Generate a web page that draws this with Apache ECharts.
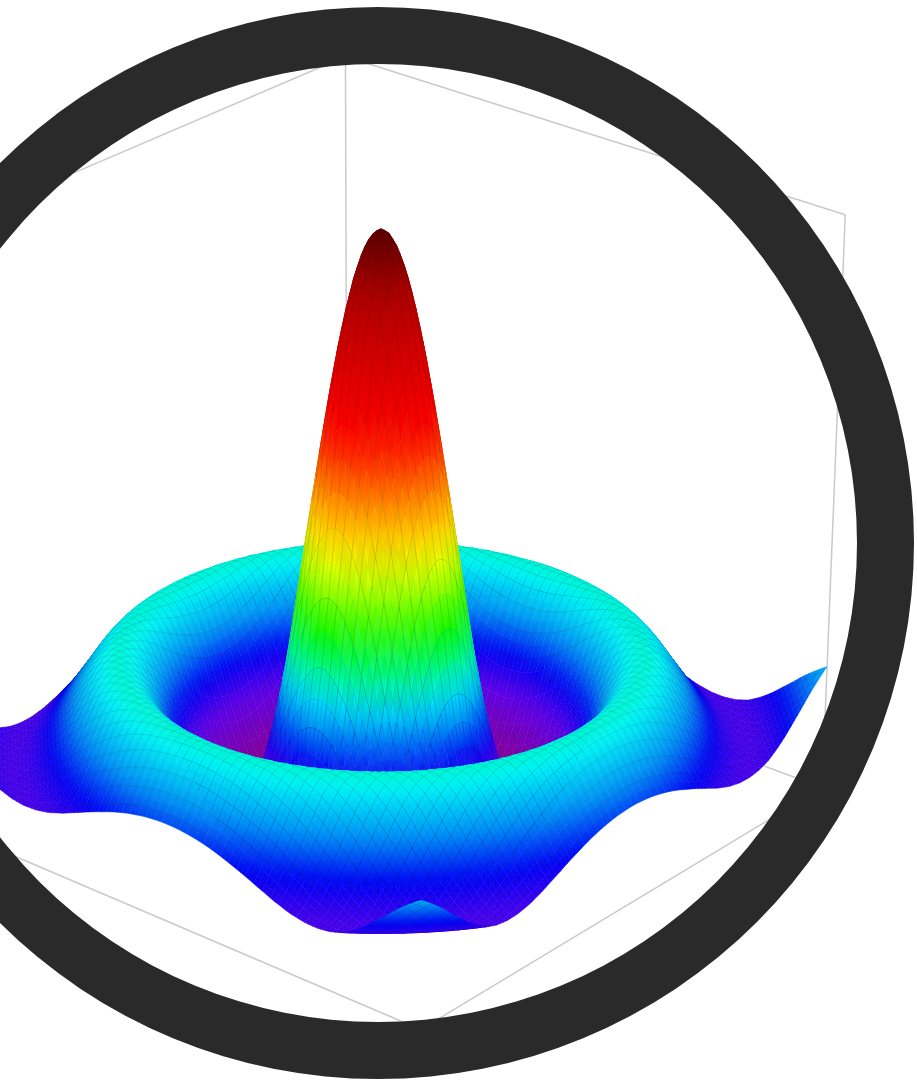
<!DOCTYPE html>
<html>
<head>
<meta charset="utf-8">
<title>Surface</title>
<script src="https://cdn.jsdelivr.net/npm/echarts@6/dist/echarts.min.js"></script>
<style>
html, body { margin: 0; padding: 0; background: #fff; }
#main { width: 917px; height: 1081px; }
</style>
</head>
<body>
<div id="main"></div>
<script>
// surface height read at each radius (one entry every radiusStep)
const radiusStep = 0.25;
const surfaceHeights = [
  1.000, 0.990, 0.959, 0.909, 0.841, 0.759, 0.665, 0.562, 0.455, 0.346,
  0.235, 0.125, 0.035, -0.045, -0.105, -0.152, -0.189, -0.210, -0.217, -0.210,
  -0.192, -0.164, -0.128, -0.088, -0.047, -0.005, 0.033, 0.067, 0.094, 0.114,
  0.125, 0.128, 0.124, 0.112, 0.094, 0.071, 0.046, 0.022, -0.002, -0.025,
  -0.045, -0.062, -0.074, -0.080, -0.081, -0.077, -0.068, -0.053, -0.035, -0.014,
  0.006, 0.027, 0.044, 0.060, 0.072
];
// colour ramp
const colorLevels = [-0.217, -0.1, -0.03, 0.04, 0.115, 0.22, 0.38, 0.5, 0.62, 0.88, 1.0];
const colorRamp = ['#8a0090', '#6000e8', '#0000f5', '#0090f5', '#00f5f5', '#00f800', '#ffff00', '#ff8000', '#ff0000', '#b00000', '#5a0000'];

const domainHalf = 9.42;
const zFloor = -0.2;
const zTop = 1.0;
const zTopBack = 1.03; // the rear box corner sits a little higher in the picture
const meshCount = 120;
const meshLineEvery = 2;

// camera
const view = { cx: 381, cy: 524, az: -40.3, el: 24.7, dist: 16, focal: 5170, height: 1.96 };
const cosA = Math.cos(view.az * Math.PI / 180), sinA = Math.sin(view.az * Math.PI / 180);
const cosE = Math.cos(view.el * Math.PI / 180), sinE = Math.sin(view.el * Math.PI / 180);

function project(x, y, z) {
  const gx = x / domainHalf, gy = y / domainHalf;
  const zw = ((z - zFloor) / (zTop - zFloor) - 0.5) * view.height;
  const X = gx * cosA - gy * sinA;
  const Y = gx * sinA + gy * cosA;
  const v = zw * cosE + Y * sinE;
  const D = view.dist + Y * cosE - zw * sinE;
  return [view.cx + view.focal * X / D, view.cy - view.focal * v / D];
}

function heightAt(x, y) {
  const k = Math.hypot(x, y) / radiusStep;
  const i = Math.min(Math.floor(k), surfaceHeights.length - 2);
  const t = k - i;
  return surfaceHeights[i] * (1 - t) + surfaceHeights[i + 1] * t;
}

function colorOf(z) {
  let i = 0;
  while (i < colorLevels.length - 2 && z > colorLevels[i + 1]) i++;
  const t = Math.max(0, Math.min(1, (z - colorLevels[i]) / (colorLevels[i + 1] - colorLevels[i])));
  return echarts.color.lerp(t, [colorRamp[i], colorRamp[i + 1]]);
}

// mesh cells, far ones first
const cells = [];
for (let i = 0; i < meshCount; i++) {
  for (let j = 0; j < meshCount; j++) {
    cells.push([i, j]);
  }
}
const cellStep = 2 * domainHalf / meshCount;
function depthOf(c) {
  const x = -domainHalf + (c[0] + 0.5) * cellStep, y = -domainHalf + (c[1] + 0.5) * cellStep;
  return x * sinA + y * cosA;
}
cells.sort(function (a, b) { return depthOf(b) - depthOf(a); });

// box edges behind the surface
const h = domainHalf;
const boxEdges = [
  [-h, -h, zFloor, h, -h, zFloor], [h, -h, zFloor, h, h, zFloor],
  [h, h, zFloor, -h, h, zFloor], [-h, h, zFloor, -h, -h, zFloor],
  [-h, h, zFloor, -h, h, zTopBack], [h, h, zFloor, h, h, zTop], [-h, -h, zFloor, -h, -h, zTop],
  [-h, h, zTopBack, h, h, zTop], [-h, h, zTopBack, -h, -h, zTop]
];

function meshEdge(a, b) {
  return {
    type: 'line',
    shape: { x1: a[0], y1: a[1], x2: b[0], y2: b[1] },
    style: { stroke: 'rgba(0,0,0,0.14)', lineWidth: 0.8 }
  };
}

var myChart = echarts.init(document.getElementById('main'));
myChart.setOption({
  animation: false,
  backgroundColor: '#fff',
  grid: { left: 0, right: 0, top: 0, bottom: 0 },
  xAxis: { type: 'value', min: 0, max: 917, show: false },
  yAxis: { type: 'value', min: 0, max: 1081, inverse: true, show: false },
  series: [
    {
      type: 'custom',
      silent: true,
      z: 1,
      renderItem: function (params, api) {
        const e = boxEdges[params.dataIndex];
        const a = api.coord(project(e[0], e[1], e[2]));
        const b = api.coord(project(e[3], e[4], e[5]));
        return {
          type: 'line',
          shape: { x1: a[0], y1: a[1], x2: b[0], y2: b[1] },
          style: { stroke: '#cacaca', lineWidth: 1.5 }
        };
      },
      data: boxEdges.map(function (e, i) { return [i, 0]; })
    },
    {
      type: 'custom',
      silent: true,
      z: 2,
      progressive: 0,
      renderItem: function (params, api) {
        const c = cells[params.dataIndex];
        const x0 = -domainHalf + c[0] * cellStep, y0 = -domainHalf + c[1] * cellStep;
        const corners = [[x0, y0], [x0 + cellStep, y0], [x0 + cellStep, y0 + cellStep], [x0, y0 + cellStep]];
        let lo = 0, hi = 0;
        const zs = corners.map(function (p) { return heightAt(p[0], p[1]); });
        const pts = corners.map(function (p, k) {
          if (zs[k] < zs[lo]) lo = k;
          if (zs[k] > zs[hi]) hi = k;
          return api.coord(project(p[0], p[1], zs[k]));
        });
        // shade each cell from its lowest corner to its highest one
        const cLo = colorOf(zs[lo]), cHi = colorOf(zs[hi]);
        const fill = new echarts.graphic.LinearGradient(pts[lo][0], pts[lo][1], pts[hi][0], pts[hi][1],
          [{ offset: 0, color: cLo }, { offset: 1, color: cHi }], true);
        const children = [{
          type: 'polygon',
          shape: { points: pts },
          style: { fill: fill, stroke: echarts.color.lerp(0.5, [cLo, cHi]), lineWidth: 0.5 }
        }];
        // mesh lines go on the far edges so nearer cells do not paint over them
        if (c[0] % meshLineEvery === 0) children.push(meshEdge(pts[0], pts[3]));
        if (c[1] % meshLineEvery === 0) children.push(meshEdge(pts[3], pts[2]));
        return { type: 'group', children: children };
      },
      data: cells
    },
    {
      type: 'pie',
      silent: true,
      z: 5,
      center: [378, 543],
      radius: [479, 536],
      label: { show: false },
      labelLine: { show: false },
      itemStyle: { color: '#2a2a2a' },
      data: [{ value: 1, name: 'ring' }]
    }
  ]
});
</script>
</body>
</html>
